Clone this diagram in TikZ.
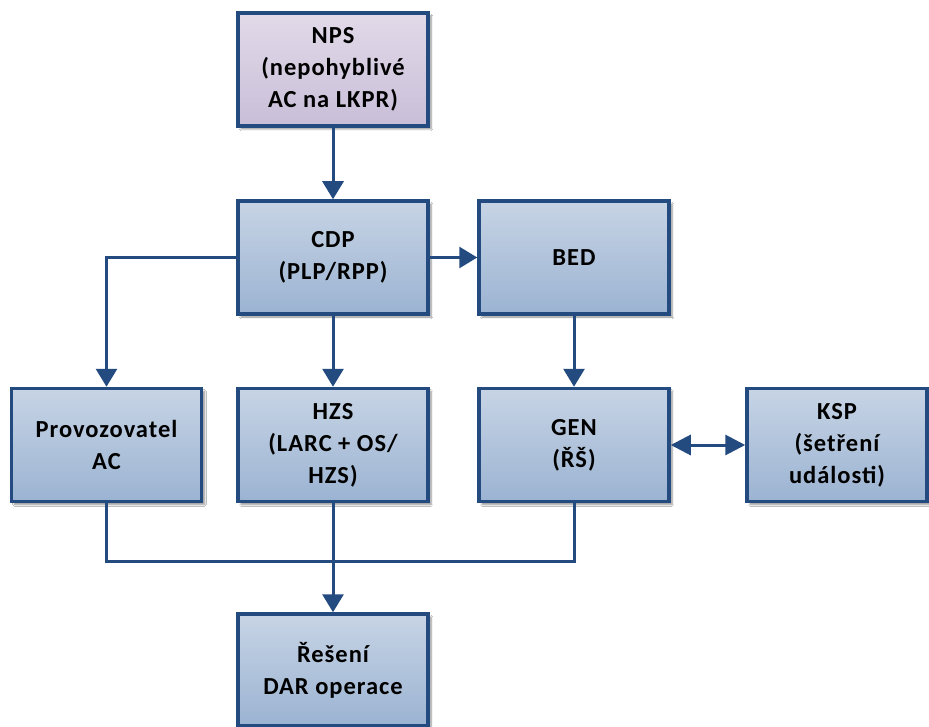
\documentclass[tikz,border=0pt]{standalone}
\usepackage{fontspec}
\setmainfont{Carlito}[LetterSpace=4]
\usetikzlibrary{arrows.meta,shadows.blur}
\definecolor{edgeblue}{RGB}{36,75,128}
\definecolor{boxtop}{RGB}{199,212,229}
\definecolor{boxbot}{RGB}{155,179,210}
\definecolor{ptop}{RGB}{226,218,233}
\definecolor{pbot}{RGB}{200,190,216}
\tikzset{
  box/.style={draw=edgeblue, line width=3.5pt, rectangle,
    minimum width=190pt, minimum height=113pt, inner sep=0pt,
    align=center, top color=boxtop, bottom color=boxbot,
    font=\fontsize{24.5}{32}\selectfont\bfseries,
    blur shadow={shadow xshift=3pt, shadow yshift=-3pt, shadow blur steps=6, shadow opacity=45}},
  pbox/.style={box, top color=ptop, bottom color=pbot},
  conn/.style={draw=edgeblue, line width=3pt},
  arr/.style={conn, -{Triangle[length=18pt,width=21pt]}},
  darr/.style={conn, {Triangle[length=20pt,width=20pt]}-{Triangle[length=20pt,width=20pt]}}
}
\begin{document}
\begin{tikzpicture}[x=1pt,y=-1pt]
\useasboundingbox (0,0) rectangle (929,727);
\clip (0,0) rectangle (929,727);
\fill[white] (0,0) rectangle (929,727);
\node[pbox] (nps) at (333,69.5) {NPS\\(nepohyblivé\\AC na LKPR)};
\node[box] (cdp) at (333,257.5) {CDP\\(PLP/RPP)};
\node[box] (bed) at (574,257.5) {BED};
\node[box] (prov) at (106.5,445) {Provozovatel\\AC};
\node[box] (hzs) at (333,445) {HZS\\(LARC + OS/\\HZS)};
\node[box] (gen) at (574,445) {GEN\\(ŘŠ)};
\node[box, minimum width=180pt] (ksp) at (837,445) {KSP\\(šetření\\události)};
\node[box, minimum height=112pt] (res) at (333,670) {Řešení\\DAR operace};
\coordinate (pl) at (106.5,257.5);
\coordinate (ml) at (106.5,561);
\coordinate (mr) at (574,561);
\draw[arr] (nps) -- (cdp);
\draw[arr] (cdp) -- (bed);
\draw[arr] (cdp.west) -- (pl) -- (prov.north);
\draw[arr] (cdp) -- (hzs);
\draw[arr] (bed) -- (gen);
\draw[darr] (gen) -- (ksp);
\draw[conn] (prov.south) -- (ml) -- (mr) -- (gen.south);
\draw[arr] (hzs) -- (res);
\end{tikzpicture}
\end{document}
